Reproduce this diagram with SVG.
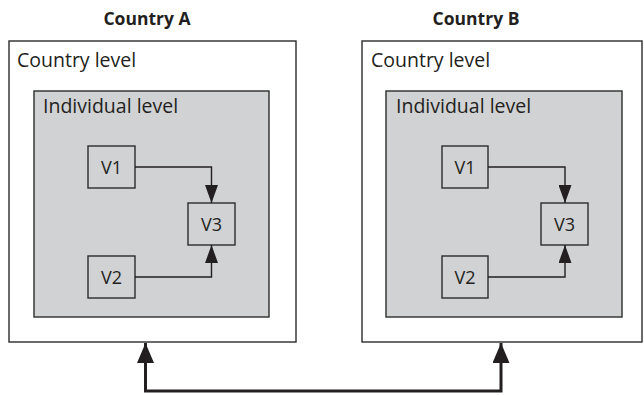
<svg xmlns="http://www.w3.org/2000/svg" width="644" height="395" viewBox="0 0 644 395">
<defs>
<style>
.outer{fill:#fff;stroke:#2b2b2b;stroke-width:1.4}
.inner{fill:#d1d2d4;stroke:#2b2b2b;stroke-width:1.4}
.var{fill:#d1d2d4;stroke:#2b2b2b;stroke-width:1.4}
.t{font-family:"Open Sans","Noto Sans",sans-serif;fill:#231f20}
.lbl{font-size:19.5px}
.vt{font-size:18px;text-anchor:middle}
.title{font-size:17.5px;font-weight:bold;text-anchor:middle}
.thin{fill:none;stroke:#231f20;stroke-width:1.4}
.thick{fill:none;stroke:#231f20;stroke-width:3}
</style>
<marker id="ah" markerUnits="userSpaceOnUse" markerWidth="18" markerHeight="13" refX="18" refY="6.5" orient="auto">
<path d="M0,0 L18,6.5 L0,13 Z" fill="#231f20"/>
</marker>
<marker id="ahb" markerUnits="userSpaceOnUse" markerWidth="20" markerHeight="17" refX="20" refY="8.5" orient="auto">
<path d="M0,0 L20,8.5 L0,17 Z" fill="#231f20"/>
</marker>
</defs>
<text class="t title" x="147" y="25">Country A</text>
<text class="t title" x="476" y="25">Country B</text>
<g id="countryA">
<rect class="outer" x="9" y="41" width="287" height="301"/>
<text class="t lbl" x="17" y="67">Country level</text>
<g id="indivA">
<rect class="inner" x="34" y="91" width="235" height="226"/>
<text class="t lbl" x="43" y="113">Individual level</text>
</g>
</g>
<g id="A_V1"><rect class="var" x="88" y="146" width="47" height="42"/><text class="t vt" x="111.5" y="173.5">V1</text></g>
<g id="A_V2"><rect class="var" x="88" y="256" width="47" height="42"/><text class="t vt" x="111.5" y="283.5">V2</text></g>
<g id="A_V3"><rect class="var" x="188" y="203" width="47" height="42"/><text class="t vt" x="211.5" y="230.5">V3</text></g>
<g id="countryB">
<rect class="outer" x="362" y="41" width="280" height="301"/>
<text class="t lbl" x="371" y="67">Country level</text>
<g id="indivB">
<rect class="inner" x="386" y="91" width="236" height="226"/>
<text class="t lbl" x="396" y="113">Individual level</text>
</g>
</g>
<g id="B_V1"><rect class="var" x="442" y="146" width="46" height="42"/><text class="t vt" x="465" y="173.5">V1</text></g>
<g id="B_V2"><rect class="var" x="442" y="256" width="46" height="42"/><text class="t vt" x="465" y="283.5">V2</text></g>
<g id="B_V3"><rect class="var" x="541" y="203" width="47" height="42"/><text class="t vt" x="564.5" y="230.5">V3</text></g>
<g id="connectors">
<path class="thin" d="M135,167 H211.5 V203" marker-end="url(#ah)"/>
<path class="thin" d="M135,277 H211.5 V245" marker-end="url(#ah)"/>
<path class="thin" d="M488,167 H565 V203" marker-end="url(#ah)"/>
<path class="thin" d="M488,277 H565 V245" marker-end="url(#ah)"/>
<path class="thick" d="M320,391 H145.5 V343" marker-end="url(#ahb)"/>
<path class="thick" d="M320,391 H501 V343" marker-end="url(#ahb)"/>
</g>
</svg>
